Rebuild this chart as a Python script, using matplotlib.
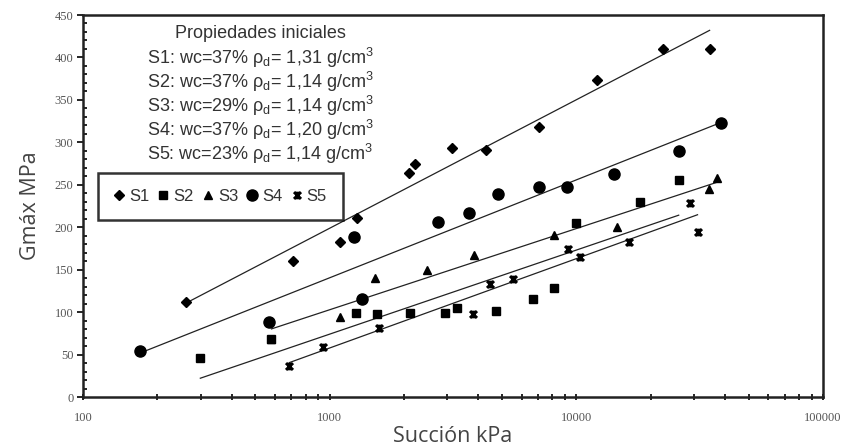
import numpy as np
import matplotlib as mpl
mpl.use('Agg')
from matplotlib import pyplot as plt
from matplotlib.path import Path
from matplotlib.ticker import FixedLocator, MultipleLocator, NullFormatter

# Data: suction (kPa) and Gmax (MPa) per sample
s1_x = [262, 708, 1099, 1289, 2094, 2218, 3133, 4303, 7080, 12160, 22400, 34700]
s1_y = [112, 160, 183, 211, 264, 274, 293, 291, 318, 374, 410, 410]

s2_x = [299, 581, 1276, 1553, 2113, 2930, 3281, 4730, 6680, 8150, 10000, 18200, 26000]
s2_y = [46, 68, 99, 98, 99, 99, 105, 101, 115, 128, 205, 230, 256]

s3_x = [581, 1099, 1524, 2480, 3845, 8150, 14560, 34400, 37100]
s3_y = [68, 94, 140, 150, 167, 191, 200, 245, 258]

s4_x = [170, 565, 1253, 1350, 2748, 3673, 4820, 7080, 9180, 14250, 26000, 38500]
s4_y = [54, 88, 188, 115, 206, 217, 239, 247, 247, 263, 290, 323]

s5_x = [687, 937, 1582, 3810, 4467, 5550, 9270, 10380, 16400, 28800, 31000]
s5_y = [37, 59, 81, 98, 133, 139, 174, 165, 183, 228, 194]

names = ['S1', 'S2', 'S3', 'S4', 'S5']
props = ['S1: wc=37% \u03c1$_\\mathregular{d}$= 1,31 g/cm$^\\mathregular{3}$',
         'S2: wc=37% \u03c1$_\\mathregular{d}$= 1,14 g/cm$^\\mathregular{3}$',
         'S3: wc=29% \u03c1$_\\mathregular{d}$= 1,14 g/cm$^\\mathregular{3}$',
         'S4: wc=37% \u03c1$_\\mathregular{d}$= 1,20 g/cm$^\\mathregular{3}$',
         'S5: wc=23% \u03c1$_\\mathregular{d}$= 1,14 g/cm$^\\mathregular{3}$']

# Excel-like star marker: an x with a vertical bar
star = Path([(-1, -1), (1, 1), (-1, 1), (1, -1), (0, -1.1), (0, 1.1)],
            [Path.MOVETO, Path.LINETO, Path.MOVETO, Path.LINETO, Path.MOVETO, Path.LINETO])

series = [(s1_x, s1_y, 'D', 5.2, 3),
          (s2_x, s2_y, 's', 5.8, 5),
          (s3_x, s3_y, '^', 6.2, 3),
          (s4_x, s4_y, 'o', 8, 3),
          (s5_x, s5_y, star, 5.5, 3)]

plt.rcParams['font.family'] = ['Liberation Sans', 'DejaVu Sans']
plt.rcParams['mathtext.fontset'] = 'custom'
plt.rcParams['mathtext.rm'] = 'Liberation Sans'

fig = plt.figure(figsize=(8.44, 4.47), dpi=100)
ax = fig.add_axes([83/844, 1-397/447, 740/844, 382/447])

for (x, y, mk, ms, z), nm in zip(series, names):
    x = np.array(x, float)
    y = np.array(y, float)
    # logarithmic trend line
    b, a = np.polyfit(np.log10(x), y, 1)
    xl = np.array([x.min(), x.max()])
    ax.plot(xl, a + b*np.log10(xl), '-', color='#222222', lw=0.9, zorder=2)
    if mk is star:
        ax.plot(x, y, linestyle='none', marker=mk, ms=ms, mec='black', mew=2.2,
                color='black', label=nm, zorder=z)
    else:
        ax.plot(x, y, linestyle='none', marker=mk, ms=ms, color='black',
                mec='black', label=nm, zorder=z)

ax.set_xscale('log')
ax.set_xlim(100, 100000)
ax.set_ylim(0, 450)
ax.yaxis.set_major_locator(MultipleLocator(50))
ax.yaxis.set_minor_locator(MultipleLocator(10))
ax.xaxis.set_minor_locator(FixedLocator([m*10**e for e in range(2, 5) for m in range(2, 10)]))
ax.xaxis.set_minor_formatter(NullFormatter())
ax.set_xticks([100, 1000, 10000, 100000])
ax.set_xticklabels(['100', '1000', '10000', '100000'])

for lab in ax.get_xticklabels() + ax.get_yticklabels():
    lab.set_fontfamily('Liberation Serif')
    lab.set_fontsize(9)
    lab.set_color('#555555')

ax.tick_params(axis='y', which='major', direction='out', length=4, width=1.2, pad=3)
ax.tick_params(axis='y', which='minor', direction='in', length=3, width=1.2)
ax.tick_params(axis='x', which='major', direction='inout', length=5, width=1.2, pad=8)
ax.tick_params(axis='x', which='minor', direction='inout', length=5, width=1.2)

for sp in ax.spines.values():
    sp.set_linewidth(1.8)
    sp.set_color('#222222')

ax.set_xlabel('Succi\u00f3n kPa', family='Open Sans', fontsize=15.5, color='#444444', labelpad=2)
ax.set_ylabel('Gm\u00e1x MPa', family='Open Sans', fontsize=15.5, color='#444444', labelpad=10)

# initial properties text block
tx = (260 - 83) / 740
ax.text(tx, (397-33)/382, 'Propiedades iniciales', transform=ax.transAxes,
        ha='center', va='center', fontsize=13, color='#333333')
for i, p in enumerate(props):
    ax.text(tx, (397-58-24*i)/382, p, transform=ax.transAxes,
            ha='center', va='center', fontsize=13, color='#333333')

leg = ax.legend(loc='upper left', bbox_to_anchor=((98-83)/740, (397-173)/382),
                ncol=5, fontsize=12, handlelength=0.6, handletextpad=0.3,
                columnspacing=0.55, borderpad=0.95, borderaxespad=0, frameon=True,
                fancybox=False, numpoints=1)
leg.get_frame().set_edgecolor('black')
leg.get_frame().set_linewidth(1.8)
for t in leg.get_texts():
    t.set_color('#333333')

plt.savefig('out.png', dpi=100)
